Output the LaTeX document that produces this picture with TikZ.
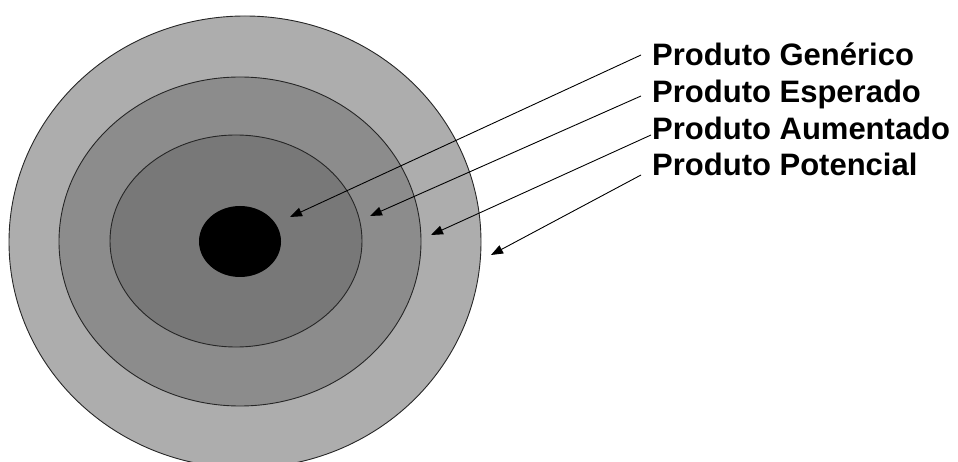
\documentclass[tikz,border=0pt]{standalone}
\usepackage{fontspec}
\setmainfont{Liberation Sans}
\usetikzlibrary{arrows.meta}
\definecolor{ringA}{gray}{0.68}
\definecolor{ringB}{gray}{0.55}
\definecolor{ringC}{gray}{0.47}
\tikzset{
  ring/.style={draw=black!85, line width=0.9pt},
  pointer/.style={draw=black, line width=0.9pt, -{Triangle[length=12pt,width=9pt]}},
  lbl/.style={anchor=base west, inner sep=0pt, font=\fontsize{31}{36}\selectfont\bfseries}
}
\begin{document}
\begin{tikzpicture}[x=1pt,y=-1pt]
\useasboundingbox (0,0) rectangle (958,462);
\begin{scope}
\clip (0,0) rectangle (958,462);
\fill[ringA, ring] (245,242) ellipse [x radius=236, y radius=226];
\end{scope}
\fill[ringB, ring] (240,241.5) ellipse [x radius=181, y radius=164.5];
\fill[ringC, ring] (236,241) ellipse [x radius=126, y radius=106];
\fill[black] (240,241.5) ellipse [x radius=41, y radius=35.5];
\node[lbl] (g) at (652,66) {Produto Genérico};
\node[lbl] (e) at (652,102.7) {Produto Esperado};
\node[lbl] (a) at (652,139.4) {Produto Aumentado};
\node[lbl] (p) at (652,176) {Produto Potencial};
\coordinate (gs) at (641,55);
\coordinate (es) at (641,96);
\coordinate (as) at (651,135);
\coordinate (ps) at (641,175);
\coordinate (gt) at (290,217);
\coordinate (et) at (370,216);
\coordinate (at) at (431,235);
\coordinate (pt) at (491,255);
\draw[pointer] (gs) -- (gt);
\draw[pointer] (es) -- (et);
\draw[pointer] (as) -- (at);
\draw[pointer] (ps) -- (pt);
\end{tikzpicture}
\end{document}
